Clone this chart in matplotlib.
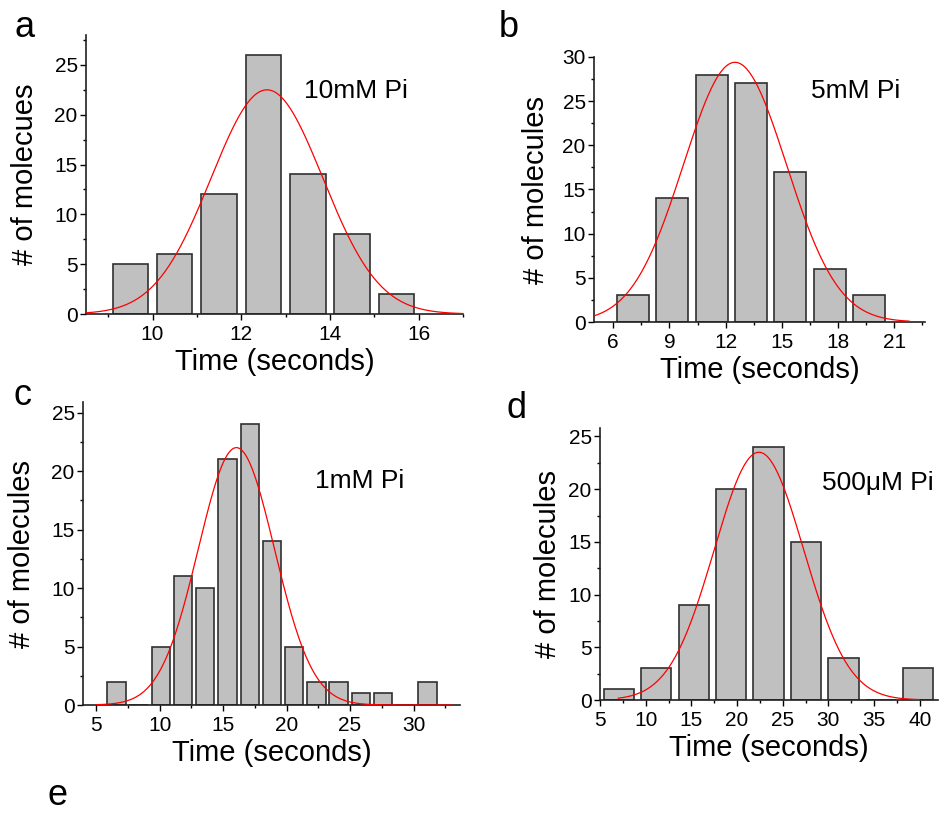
import numpy as np
import matplotlib
matplotlib.use("Agg")
import matplotlib.pyplot as plt
from matplotlib.ticker import MultipleLocator

plt.rcParams["font.family"] = ["Liberation Sans", "DejaVu Sans"]

# Histogram data (bin centres, counts)
a_centres = [9.5, 10.5, 11.5, 12.5, 13.5, 14.5, 15.5]
a_counts = [5, 6, 12, 26, 14, 8, 2]

b_centres = [7.05, 9.15, 11.25, 13.35, 15.45, 17.55, 19.65]
b_counts = [3, 14, 28, 27, 17, 6, 3]

c_centres = [6.6, 8.35, 10.1, 11.85, 13.6, 15.35, 17.1, 18.85, 20.6, 22.35,
             24.1, 25.85, 27.6, 29.35, 31.1]
c_counts = [2, 0, 5, 11, 10, 21, 24, 14, 5, 2, 2, 1, 1, 0, 2]

d_centres = [7.05, 11.15, 15.25, 19.35, 23.45, 27.55, 31.65, 35.75, 39.85]
d_counts = [1, 3, 9, 20, 24, 15, 4, 0, 3]

# Gaussian fit parameters (amplitude, centre, sigma, x-range of the curve)
fit_amp = [22.5, 29.4, 22.0, 23.5]
fit_mu = [12.58, 12.5, 16.05, 22.4]
fit_sigma = [1.26, 2.75, 3.0, 4.9]
fit_range = [(8.5, 17.0), (5.0, 21.8), (5.0, 33.0), (7.0, 39.9)]

labels = ["10mM Pi", "5mM Pi", "1mM Pi", "500\u03bcM Pi"]
ylabels = ["# of molecues", "# of molecules", "# of molecules", "# of molecules"]

W, H = 946, 813
fig = plt.figure(figsize=(W / 100, H / 100), dpi=100)


def px_rect(l, r, t, b):
    return [l / W, 1 - b / H, (r - l) / W, (b - t) / H]


panels = [
    dict(rect=px_rect(86, 463, 35, 314), centres=a_centres, counts=a_counts,
         width=0.8, xlim=(8.5, 17.0), ylim=(0, 28), xmaj=2, xmin=1,
         text_xy=(304, 98), ylab_x=39),
    dict(rect=px_rect(594, 925, 57, 322), centres=b_centres, counts=b_counts,
         width=1.71, xlim=(4.97, 22.65), ylim=(0, 30), xmaj=3, xmin=1.5,
         text_xy=(811, 98), ylab_x=550),
    dict(rect=px_rect(83, 460, 402, 705), centres=c_centres, counts=c_counts,
         width=1.45, xlim=(3.97, 33.66), ylim=(0, 25.9), xmaj=5, xmin=2.5,
         text_xy=(315, 488), ylab_x=36),
    dict(rect=px_rect(600, 938, 428, 700), centres=d_centres, counts=d_counts,
         width=3.31, xlim=(5.0, 42.0), ylim=(0, 25.8), xmaj=5, xmin=2.5,
         text_xy=(822, 490), ylab_x=562),
]

for i, p in enumerate(panels):
    ax = fig.add_axes(p["rect"])
    ax.bar(p["centres"], p["counts"], width=p["width"], color="#c0c0c0",
           edgecolor="#303030", linewidth=1.2, zorder=2)

    xs = np.linspace(fit_range[i][0], fit_range[i][1], 400)
    ys = fit_amp[i] * np.exp(-(xs - fit_mu[i]) ** 2 / (2 * fit_sigma[i] ** 2))
    ax.plot(xs, ys, color="red", linewidth=0.9, zorder=3)

    ax.set_xlim(*p["xlim"])
    ax.set_ylim(*p["ylim"])
    ax.xaxis.set_major_locator(MultipleLocator(p["xmaj"]))
    ax.xaxis.set_minor_locator(MultipleLocator(p["xmin"]))
    ax.yaxis.set_major_locator(MultipleLocator(5))
    ax.yaxis.set_minor_locator(MultipleLocator(2.5))

    for s in ["top", "right"]:
        ax.spines[s].set_visible(False)
    for s in ["left", "bottom"]:
        ax.spines[s].set_linewidth(1.2)
        ax.spines[s].set_color("#202020")
    ax.tick_params(which="major", direction="out", length=4, width=1,
                   labelsize=15)
    ax.tick_params(axis="x", which="major", pad=4)
    ax.tick_params(axis="y", which="major", pad=2)
    ax.tick_params(which="minor", direction="out", length=2.5, width=1)
    ax.set_xlabel("Time (seconds)", fontsize=21, labelpad=3)
    ax.set_ylabel(ylabels[i], fontsize=21)
    # put the y label at the same place as in the figure
    ax.yaxis.set_label_coords(
        (p["ylab_x"] - p["rect"][0] * W) / (p["rect"][2] * W), 0.5)

    tx, ty = p["text_xy"]
    fig.text(tx / W, 1 - ty / H, labels[i], fontsize=19, ha="left",
             va="baseline")

for letter, x, y in [("a", 14, 37), ("b", 499, 37), ("c", 13, 405),
                     ("d", 507, 418), ("e", 47, 805)]:
    fig.text(x / W, 1 - y / H, letter, fontsize=26, ha="left", va="baseline")

fig.savefig("out.png", dpi=100)
